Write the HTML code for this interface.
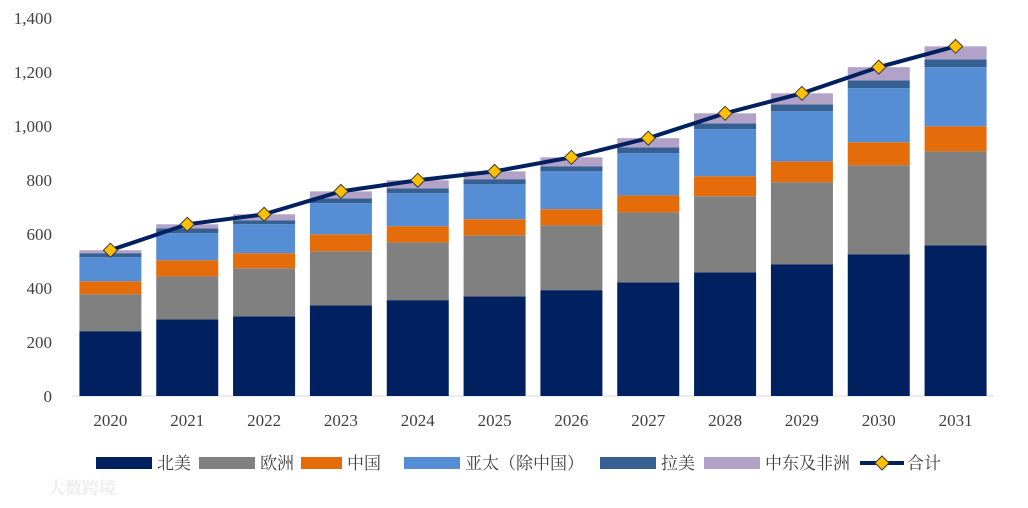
<!DOCTYPE html>
<html><head><meta charset="utf-8"><style>
body{margin:0;background:#fff;width:1028px;height:503px;overflow:hidden;font-family:"Liberation Serif","Noto Serif CJK SC",serif;}
svg text{font-family:"Liberation Serif","Noto Serif CJK SC",serif;}
</style></head><body>
<svg id="chart" width="1028" height="503" xmlns="http://www.w3.org/2000/svg"></svg>
<script>
const categories=["2020","2021","2022","2023","2024","2025","2026","2027","2028","2029","2030","2031"];
const northAmerica=[240,284,295,336,355,369,392,421,458,488,525,558];
const europe=[137,159,178,200,214,226,240,259,282,304,330,348];
const china=[48,60,56,63,60,60,60,63,74,77,85,93];
const apac=[89,100,107,115,122,129,140,156,174,186,200,219];
const latam=[15,18,15,18,18,19,19,22,22,25,29,29];
const mea=[11,15,22,26,30,29,33,34,37,41,49,48];
const totals=[540,636,673,758,799,832,884,955,1047,1121,1218,1295];
const yTicks=[0,200,400,600,800,1000,1200,1400];
const seriesNames=["北美","欧洲","中国","亚太（除中国）","拉美","中东及非洲"];
const seriesData=[northAmerica,europe,china,apac,latam,mea];
const colors=["#002060","#808080","#E46C0A","#558ED5","#376092","#B3A2C7"];
const NS="http://www.w3.org/2000/svg";
const svg=document.getElementById('chart');
function el(t,a){const e=document.createElementNS(NS,t);for(const k in a)e.setAttribute(k,a[k]);svg.appendChild(e);return e;}
const y0=396,yTop=18,yMax=1400;
function y(v){return y0-(v/yMax)*(y0-yTop);}
const xStart=72,xEnd=994,band=(xEnd-xStart)/categories.length,bw=62;
function xc(i){return xStart+band*(i+0.5);}
yTicks.forEach(t=>{const tx=el('text',{x:52,y:y(t)+6,'text-anchor':'end','font-size':17,fill:'#404040'});tx.textContent=t.toLocaleString('en-US');

});
const ax=el('line',{x1:xStart,x2:xEnd,y1:y0,y2:y0,stroke:'#d9d9d9','stroke-width':1});


categories.forEach((c,i)=>{let base=0;
seriesData.forEach((s,k)=>{const r=el('rect',{x:xc(i)-bw/2,y:y(base+s[i]),width:bw,height:y(base)-y(base+s[i]),fill:colors[k]});

base+=s[i];});
const t=el('text',{x:xc(i),y:426,'text-anchor':'middle','font-size':17,fill:'#404040'});t.textContent=c;

});
const line=el('polyline',{points:totals.map((v,i)=>xc(i)+','+y(v)).join(' '),fill:'none',stroke:'#002060','stroke-width':4});


totals.forEach((v,i)=>{const cx=xc(i),cy=y(v),d=7;const p=el('polygon',{points:`${cx},${cy-d} ${cx+d},${cy} ${cx},${cy+d} ${cx-d},${cy}`,fill:'#FFC000',stroke:'#3a3a3a','stroke-width':1});

});
const lx=[96,199,301,404,600,704];const lw=[56,56,41,56,56,56];
seriesNames.forEach((n,k)=>{const r=el('rect',{x:lx[k],y:457,width:lw[k],height:12,fill:colors[k]});


const t=el('text',{x:lx[k]+lw[k]+5,y:469,'font-size':17,fill:'#404040'});t.textContent=n;

});
const ll=el('line',{x1:860,x2:904,y1:463,y2:463,stroke:'#002060','stroke-width':4});


const ld=el('polygon',{points:'882,456 889,463 882,470 875,463',fill:'#FFC000',stroke:'#3a3a3a','stroke-width':1});


const lt=el('text',{x:907,y:469,'font-size':17,fill:'#404040'});lt.textContent='合计';


const wm=el('text',{x:48,y:494,'font-size':17,fill:'#ececec','font-weight':'bold'});wm.textContent='大数跨境';


</script>
</body></html>
